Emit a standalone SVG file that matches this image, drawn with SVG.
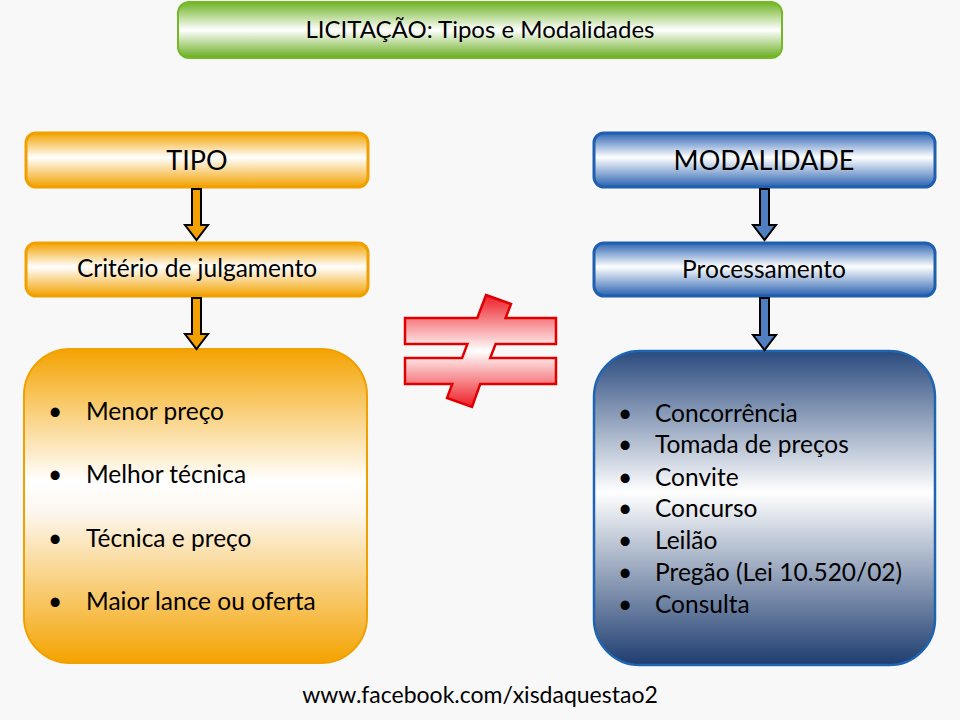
<svg xmlns="http://www.w3.org/2000/svg" width="960" height="720" viewBox="0 0 960 720">
<defs>
<linearGradient id="gGreen" x1="0" y1="0" x2="0" y2="1">
<stop offset="0" stop-color="#6fb324"/><stop offset="0.5" stop-color="#ffffff"/><stop offset="1" stop-color="#68ad1e"/>
</linearGradient>
<linearGradient id="gOrange" x1="0" y1="0" x2="0" y2="1">
<stop offset="0" stop-color="#f3a200"/><stop offset="0.45" stop-color="#ffffff"/><stop offset="1" stop-color="#f3a200"/>
</linearGradient>
<linearGradient id="gBlue" x1="0" y1="0" x2="0" y2="1">
<stop offset="0" stop-color="#2e66b4"/><stop offset="0.45" stop-color="#ffffff"/><stop offset="1" stop-color="#2a62b0"/>
</linearGradient>
<linearGradient id="gOrangeBig" x1="0" y1="0" x2="0" y2="1">
<stop offset="0" stop-color="#f4a300"/><stop offset="0.42" stop-color="#ffffff"/><stop offset="0.52" stop-color="#fdf7ee"/><stop offset="1" stop-color="#f4a300"/>
</linearGradient>
<linearGradient id="gBlueBig" x1="0" y1="0" x2="0" y2="1">
<stop offset="0" stop-color="#2a4a7e"/><stop offset="0.45" stop-color="#ffffff"/><stop offset="1" stop-color="#1e3d70"/>
</linearGradient>
<linearGradient id="gRed" x1="0" y1="0" x2="0" y2="1">
<stop offset="0" stop-color="#ee1c24"/><stop offset="0.5" stop-color="#ffffff"/><stop offset="1" stop-color="#ee1c24"/>
</linearGradient>
<style>
text{font-family:Lato,"Liberation Sans",sans-serif;fill:#000}
.c{text-anchor:middle}
.o{fill:url(#gOrange);stroke:#f0a000;stroke-width:3}
.b{fill:url(#gBlue);stroke:#1f5fb0;stroke-width:3}
.ao{fill:#f2a000;stroke:#000;stroke-width:2;stroke-linejoin:miter}
.ab{fill:#4f7fc0;stroke:#000;stroke-width:2;stroke-linejoin:miter}
.li{font-size:24.5px}
</style>
</defs>
<rect width="960" height="720" fill="#f8f8f8"/>

<g id="title">
<rect x="178" y="2" width="604" height="56" rx="11" fill="url(#gGreen)" stroke="#74b92a" stroke-width="2"/>
<text x="480" y="38" class="c" font-size="24">LICITAÇÃO: Tipos e Modalidades</text>
</g>

<g id="tipo">
<rect x="26" y="133" width="342" height="54" rx="10" class="o"/>
<text x="197" y="170" class="c" font-size="27">TIPO</text>
</g>
<g id="criterio">
<rect x="26" y="243" width="342" height="53" rx="10" class="o"/>
<text x="197" y="277" class="c" font-size="24.5">Critério de julgamento</text>
</g>
<g id="tipo-list">
<rect x="24" y="349" width="343" height="314" rx="46" fill="url(#gOrangeBig)" stroke="#f0a000" stroke-width="2"/>
<g class="li">
<text x="48" y="420">•</text><text x="86" y="420">Menor preço</text>
<text x="48" y="483">•</text><text x="86" y="483">Melhor técnica</text>
<text x="48" y="547">•</text><text x="86" y="547">Técnica e preço</text>
<text x="48" y="610">•</text><text x="86" y="610">Maior lance ou oferta</text>
</g>
</g>

<g id="modalidade">
<rect x="594" y="133" width="341" height="54" rx="10" class="b"/>
<text x="764" y="170" class="c" font-size="27">MODALIDADE</text>
</g>
<g id="processamento">
<rect x="594" y="243" width="341" height="53" rx="10" class="b"/>
<text x="764" y="278" class="c" font-size="24.5">Processamento</text>
</g>
<g id="modalidade-list">
<rect x="594" y="351" width="341" height="314" rx="46" fill="url(#gBlueBig)" stroke="#1e64b0" stroke-width="2.5"/>
<g class="li">
<text x="618" y="422">•</text><text x="655" y="422">Concorrência</text>
<text x="618" y="453">•</text><text x="655" y="453">Tomada de preços</text>
<text x="618" y="486">•</text><text x="655" y="486">Convite</text>
<text x="618" y="517">•</text><text x="655" y="517">Concurso</text>
<text x="618" y="549">•</text><text x="655" y="549">Leilão</text>
<text x="618" y="581">•</text><text x="655" y="581">Pregão (Lei 10.520/02)</text>
<text x="618" y="613">•</text><text x="655" y="613">Consulta</text>
</g>
</g>

<g id="connectors">
<path class="ao" d="M192,189 H201 V225 H208 L196.5,240 L185,225 H192 Z"/>
<path class="ao" d="M192,298 H201 V334 H208 L196.5,349 L185,334 H192 Z"/>
<path class="ab" d="M760,189 H769 V225 H776 L764.5,240 L753,225 H760 Z"/>
<path class="ab" d="M760,298 H769 V335 H776 L764.5,350 L753,335 H760 Z"/>
</g>

<g id="not-equal">
<path d="M486,295 L511,304 L505.6,318 H556 V344 H495.6 L490.2,358 H556 V384 H480.2 L472,407 L447,398 L452.3,384 H405 V358 H462.1 L467.4,344 H405 V318 H477.3 Z" fill="url(#gRed)" stroke="#e00000" stroke-width="2.5" stroke-linejoin="miter"/>
</g>

<g id="footer">
<text x="480" y="703" class="c" font-size="23">www.facebook.com/xisdaquestao2</text>
</g>
</svg>
